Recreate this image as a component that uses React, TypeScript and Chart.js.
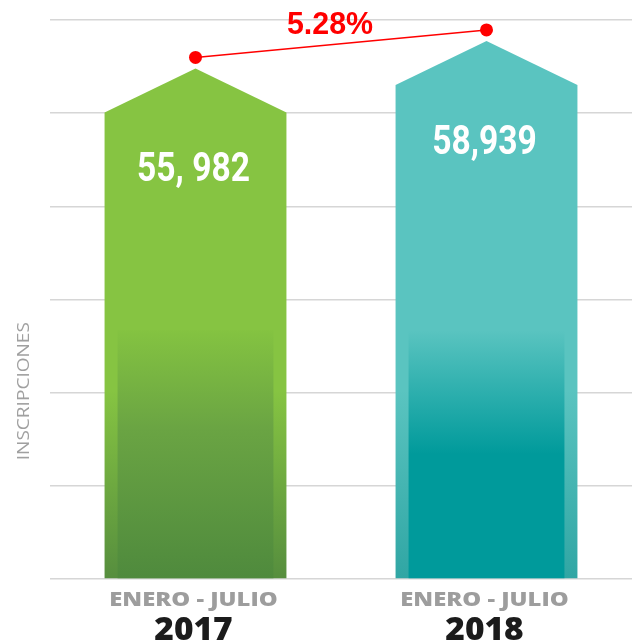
import React, { useEffect, useRef } from 'react';
import { Chart, registerables } from 'chart.js';

Chart.register(...registerables);

// ---- data ----
const categories = ['2017', '2018'];
const periodLabels = ['ENERO - JULIO', 'ENERO - JULIO'];
const inscriptions = [55982, 58939];
const valueLabels = ['55, 982', '58,939'];
const yAxisTitle = 'INSCRIPCIONES';
const yTicks = [0, 10000, 20000, 30000, 40000, 50000, 60000];

// ---- styles ----
const BAR_STYLES = [
  { top: '#86c442', outerBottom: '#568e3e', innerTop: '#84c341', innerMid: '#6aa443', midStop: 0.4, innerBottom: '#4f8a3d' },
  { top: '#5ac4c0', outerBottom: '#30a6a4', innerTop: '#5ac4c0', innerMid: '#009a9b', midStop: 0.5, innerBottom: '#009a9b' },
];
const RED = '#ff0000';

function scaledText(
  ctx: CanvasRenderingContext2D,
  text: string,
  x: number,
  y: number,
  font: string,
  color: string,
  sx: number,
  baseline: CanvasTextBaseline = 'middle',
  rotate = 0
) {
  ctx.save();
  ctx.translate(x, y);
  if (rotate) ctx.rotate(rotate);
  ctx.scale(sx, 1);
  ctx.font = font;
  ctx.fillStyle = color;
  ctx.textAlign = 'center';
  ctx.textBaseline = baseline;
  ctx.fillText(text, 0, 0);
  ctx.restore();
}

const arrowBarsPlugin = {
  id: 'arrowBars',
  beforeDatasetsDraw(chart: any) {
    const ctx: CanvasRenderingContext2D = chart.ctx;
    const area = chart.chartArea;
    const meta = chart.getDatasetMeta(1);
    const fadeY = area.bottom - 0.445 * (area.bottom - area.top);
    meta.data.forEach((el: any, i: number) => {
      const st = BAR_STYLES[i];
      const { x, y, width, base } = el.getProps(['x', 'y', 'width', 'base'], true);
      const left = x - width / 2;
      const right = x + width / 2;
      const apex = y + 11;
      const shoulder = apex + 44;
      // outer arrow shape
      const g = ctx.createLinearGradient(0, fadeY + 60, 0, base);
      g.addColorStop(0, st.top);
      g.addColorStop(1, st.outerBottom);
      ctx.save();
      ctx.beginPath();
      ctx.moveTo(left, base);
      ctx.lineTo(left, shoulder);
      ctx.lineTo(x, apex);
      ctx.lineTo(right, shoulder);
      ctx.lineTo(right, base);
      ctx.closePath();
      ctx.fillStyle = g;
      ctx.fill();
      // inner gradient panel
      const inset = 13;
      const gi = ctx.createLinearGradient(0, fadeY, 0, base);
      gi.addColorStop(0, st.innerTop);
      gi.addColorStop(st.midStop, st.innerMid);
      gi.addColorStop(1, st.innerBottom);
      ctx.fillStyle = gi;
      ctx.fillRect(left + inset, fadeY, width - 2 * inset, base - fadeY);
      ctx.restore();
    });
  },
  afterDatasetsDraw(chart: any) {
    const ctx: CanvasRenderingContext2D = chart.ctx;
    const meta = chart.getDatasetMeta(1);
    meta.data.forEach((el: any, i: number) => {
      scaledText(ctx, valueLabels[i], el.x - 2, el.y + 124, 'bold 40px Roboto', '#ffffff', 0.84, 'alphabetic');
    });
    const lineMeta = chart.getDatasetMeta(0);
    const p0 = lineMeta.data[0];
    const p1 = lineMeta.data[1];
    const pct = ((inscriptions[1] - inscriptions[0]) / inscriptions[0]) * 100;
    scaledText(
      ctx,
      pct.toFixed(2) + '%',
      (p0.x + p1.x) / 2 - 11,
      chart.chartArea.top + 13.5,
      'bold 31px "Liberation Sans"',
      RED,
      0.98,
      'alphabetic'
    );
  },
  afterDraw(chart: any) {
    const ctx: CanvasRenderingContext2D = chart.ctx;
    const area = chart.chartArea;
    const xs = chart.scales.x;
    categories.forEach((c, i) => {
      const x = xs.getPixelForValue(i) - 2;
      scaledText(ctx, periodLabels[i], x, area.bottom + 27, '800 19.5px "Open Sans"', '#9d9d9d', 1.22, 'alphabetic');
      scaledText(ctx, c, x, area.bottom + 61, '800 31px "Open Sans"', '#1b1b1b', 1.08, 'alphabetic');
    });
    scaledText(
      ctx,
      yAxisTitle,
      24,
      area.top + 0.664 * (area.bottom - area.top),
      '400 16px "Open Sans"',
      '#a0a0a0',
      1.19,
      'middle',
      -Math.PI / 2
    );
  },
};

export default function App() {
  const ref = useRef<HTMLCanvasElement | null>(null);
  useEffect(() => {
    if (!ref.current) return;
    const chart = new Chart(ref.current, {
      type: 'bar',
      data: {
        labels: categories,
        datasets: [
          {
            type: 'line',
            label: 'Variación',
            data: inscriptions,
            borderColor: RED,
            borderWidth: 1.5,
            pointRadius: 6.5,
            pointBackgroundColor: RED,
            pointBorderWidth: 0,
            fill: false,
          } as any,
          {
            type: 'bar',
            label: 'Inscripciones',
            data: inscriptions,
            backgroundColor: 'rgba(0,0,0,0)',
            categoryPercentage: 1,
            barPercentage: 0.625,
          },
        ],
      },
      options: {
        animation: false,
        responsive: false,
        layout: { padding: { top: 20, right: 9, left: 0, bottom: 0 } },
        plugins: { legend: { display: false }, tooltip: { enabled: false } },
        scales: {
          x: {
            grid: { display: false },
            border: { display: false },
            ticks: { display: false },
            afterFit: (s: any) => {
              s.height = 62;
            },
          },
          y: {
            min: yTicks[0],
            max: yTicks[yTicks.length - 1],
            afterBuildTicks: (s: any) => {
              s.ticks = yTicks.map((v) => ({ value: v }));
            },
            ticks: { display: false },
            grid: { color: '#d6d6d6', lineWidth: 1.6, drawTicks: false },
            border: { display: false },
            afterFit: (s: any) => {
              s.width = 50;
            },
          },
        },
      },
      plugins: [arrowBarsPlugin],
    });
    return () => chart.destroy();
  }, []);
  return (
    <div style={{ position: 'fixed', left: 0, top: 0, width: 641, height: 641, background: '#fff' }}>
      <canvas ref={ref} width={641} height={641} style={{ display: 'block' }} />
    </div>
  );
}
